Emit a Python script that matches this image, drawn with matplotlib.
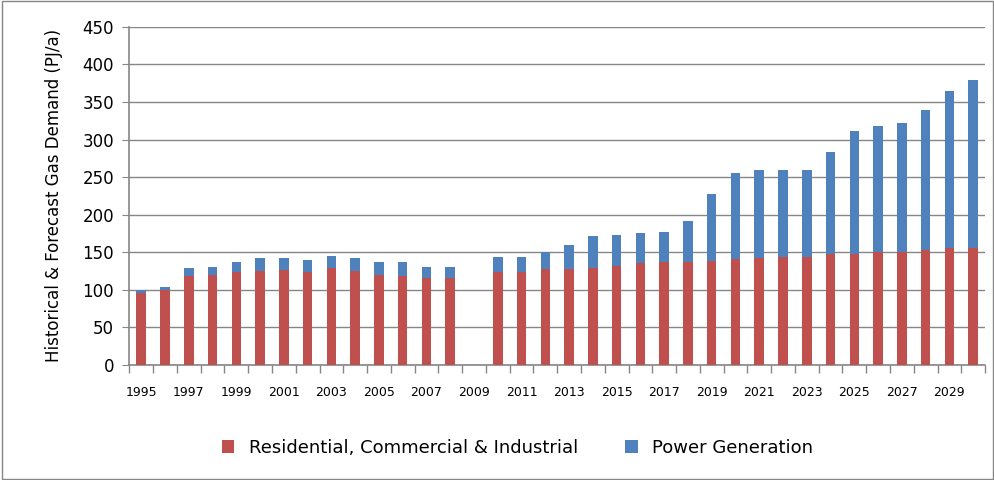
import numpy as np
import matplotlib.pyplot as plt
from matplotlib.patches import Rectangle

years = list(range(1995, 2031))
residential = [96, 99, 118, 119, 123, 125, 126, 123, 129, 125, 119, 118, 116, 116, 0,
               123, 123, 128, 128, 129, 131, 136, 137, 137, 138, 141,
               142, 144, 144, 147, 148, 150, 150, 153, 155, 156]
total = [100, 104, 129, 130, 137, 142, 142, 140, 145, 142, 137, 137, 130, 130, 0,
         144, 144, 150, 160, 171, 173, 175, 177, 191, 227, 256,
         259, 259, 259, 284, 312, 318, 322, 339, 365, 379]
power = [t - r for t, r in zip(total, residential)]

red = '#C0504D'
blue = '#4F81BD'
grey = '#868686'

fig = plt.figure(figsize=(9.95, 4.8), dpi=100)
ax = fig.add_axes([0.13, 0.24, 0.86, 0.704])

x = np.arange(len(years))
ax.bar(x, residential, width=0.4, color=red, zorder=3,
       label='Residential, Commercial & Industrial')
ax.bar(x, power, width=0.4, bottom=residential, color=blue, zorder=3,
       label='Power Generation')

ax.set_xlim(-0.5, len(years) - 0.5)
ax.set_ylim(0, 450)
ax.set_yticks(range(0, 451, 50))
ax.yaxis.grid(True, color=grey, linewidth=1, zorder=0)
ax.set_axisbelow(True)

ax.set_xticks(x[::2])
ax.set_xticklabels([str(y) for y in years[::2]], fontsize=9)
ax.set_xticks(np.arange(-0.5, len(years), 1), minor=True)
ax.tick_params(axis='x', which='major', length=0, pad=15)
ax.tick_params(axis='x', which='minor', length=6, color=grey, width=1)
ax.tick_params(axis='y', length=5, color=grey, labelsize=12, pad=6)

for s in ['top', 'right']:
    ax.spines[s].set_visible(False)
for s in ['left', 'bottom']:
    ax.spines[s].set_color(grey)
    ax.spines[s].set_linewidth(1.2)

ax.set_ylabel('Historical & Forecast Gas Demand (PJ/a)', fontsize=12, labelpad=14)

fig.legend(loc='lower center', bbox_to_anchor=(0.52, 0.015), ncol=2,
           frameon=False, fontsize=13, handlelength=0.7, handleheight=0.7,
           columnspacing=2.6)

fig.patches.append(Rectangle((0.002, 0.002), 0.996, 0.996, transform=fig.transFigure,
                             fill=False, edgecolor=grey, linewidth=1))

plt.savefig('out.png', dpi=100)
